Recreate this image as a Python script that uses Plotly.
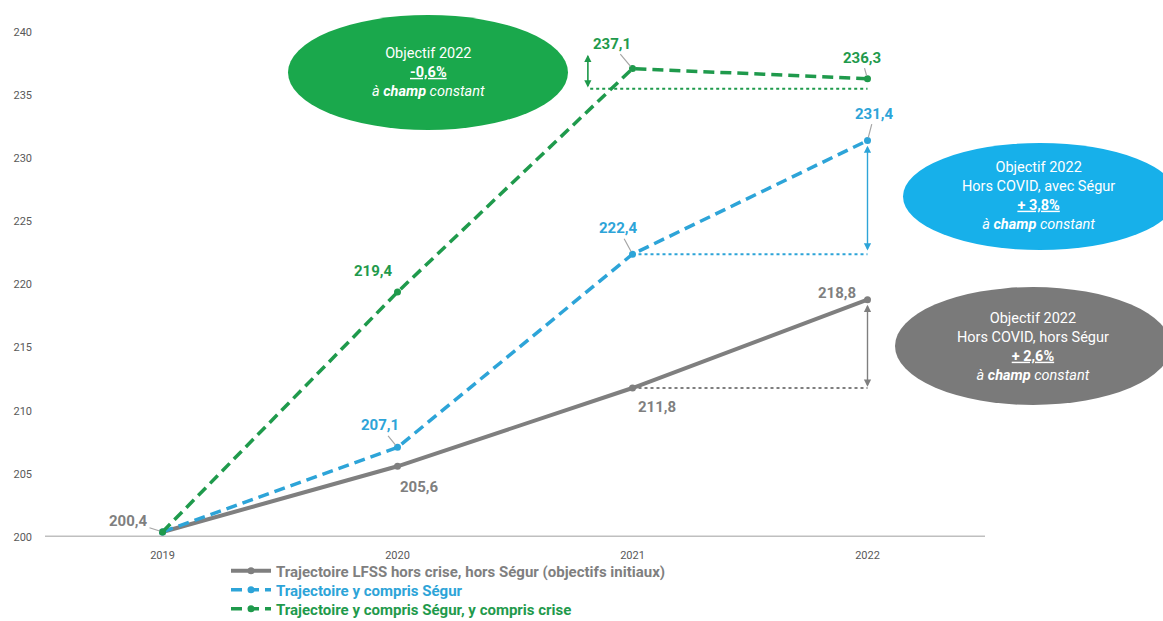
import plotly.graph_objects as go

years = [2019, 2020, 2021, 2022]
lfss = [200.4, 205.6, 211.8, 218.8]
segur = [200.4, 207.1, 222.4, 231.4]
crise = [200.4, 219.4, 237.1, 236.3]
y_ticks = [200, 205, 210, 215, 220, 225, 230, 235, 240]

GRAY = "#7f7f7f"
BLUE = "#2da4d8"
GREEN = "#1f9a4c"
GREEN_EL = "#1aa84c"
BLUE_EL = "#17b0ea"
GRAY_EL = "#7a7a7a"
FONT = "Roboto, Arial, sans-serif"

L, T, W, H = 45, 32, 940, 505

fig = go.Figure()
fig.add_trace(go.Scatter(
    x=years, y=lfss, mode="lines+markers", legend="legend",
    name="<span style='color:#7f7f7f'><b>Trajectoire LFSS hors crise, hors Ségur (objectifs initiaux)</b></span>",
    line=dict(color=GRAY, width=4), marker=dict(size=7, color=GRAY)))
fig.add_trace(go.Scatter(
    x=years, y=segur, mode="lines+markers", legend="legend2",
    name="<span style='color:#2da4d8'><b>Trajectoire y compris Ségur</b></span>",
    line=dict(color=BLUE, width=3.5, dash="11px,6px"), marker=dict(size=7, color=BLUE)))
fig.add_trace(go.Scatter(
    x=years, y=crise, mode="lines+markers", legend="legend3",
    name="<span style='color:#1f9a4c'><b>Trajectoire y compris Ségur, y compris crise</b></span>",
    line=dict(color=GREEN, width=3.5, dash="11px,6px"), marker=dict(size=7, color=GREEN)))

# value labels: (x, y, text, colour, dx px, dy px (negative = up), leader line)
labels = [
    (years[0], lfss[0], "200,4", GRAY, -34, -11, True),
    (years[1], lfss[1], "205,6", GRAY, 22, 21, False),
    (years[2], lfss[2], "211,8", GRAY, 24, 19, False),
    (years[3], lfss[3], "218,8", GRAY, -31, -7, False),
    (years[1], segur[1], "207,1", BLUE, -18, -22, True),
    (years[2], segur[2], "222,4", BLUE, -14, -26, True),
    (years[3], segur[3], "231,4", BLUE, 7, -27, True),
    (years[1], crise[1], "219,4", GREEN, -24, -21, False),
    (years[2], crise[2], "237,1", GREEN, -21, -25, True),
    (years[3], crise[3], "236,3", GREEN, -6, -21, True),
]
for x, y, t, c, ax, ay, arrow in labels:
    if arrow:
        fig.add_annotation(x=x, y=y, text="<b>" + t + "</b>", showarrow=True,
                           arrowhead=0, arrowwidth=1.2, arrowcolor="#a6a6a6",
                           ax=ax, ay=ay, standoff=3,
                           font=dict(color=c, size=15, family=FONT))
    else:
        fig.add_annotation(x=x, y=y, text="<b>" + t + "</b>", showarrow=False,
                           xshift=ax, yshift=-ay,
                           font=dict(color=c, size=15, family=FONT))

# dotted reference lines
dotted = [(2021.0, 2022, 211.8, GRAY), (2021.0, 2022, 222.4, BLUE), (2020.82, 2022, 235.5, GREEN)]
for x0, x1, yv, c in dotted:
    fig.add_shape(type="line", x0=x0, x1=x1, y0=yv, y1=yv,
                  xref="x", yref="y", line=dict(color=c, width=2, dash="dot"))

# double arrows
def dbl_arrow(x, y0, y1, c):
    for a, b in ((y0, y1), (y1, y0)):
        fig.add_annotation(x=x, y=b, ax=x, ay=a, xref="x", yref="y", axref="x", ayref="y",
                           text="", showarrow=True, arrowhead=2, arrowsize=1.2,
                           arrowwidth=1.2, arrowcolor=c)

dbl_arrow(2022, 211.9, 218.4, GRAY)
dbl_arrow(2022, 222.7, 231.0, BLUE)
dbl_arrow(2020.81, 235.6, 238.2, GREEN)

# ellipses
def px2paper(x, y):
    return (x - L) / W, (T + H - y) / H

def ellipse(x0, y0, x1, y1, color, lines, xc, yc):
    a0, b0 = px2paper(x0, y1)
    a1, b1 = px2paper(x1, y0)
    fig.add_shape(type="circle", xref="paper", yref="paper", x0=a0, x1=a1, y0=b0, y1=b1,
                  fillcolor=color, line=dict(color=color, width=0), layer="above")
    cx, cy = px2paper(xc, yc)
    fig.add_annotation(xref="paper", yref="paper", x=cx, y=cy, text="<br>".join(lines),
                       xanchor="center", yanchor="middle",
                       showarrow=False, font=dict(color="white", size=14.5, family=FONT),
                       align="center")

ellipse(288, 15, 568, 130, GREEN_EL,
        ["Objectif 2022", "<u><b>-0,6%</b></u>", "<i>à <b>champ</b> constant</i>"], 428, 73)
ellipse(903, 143, 1177, 250, BLUE_EL,
        ["Objectif 2022", "Hors COVID, avec Ségur", "<u><b>+ 3,8%</b></u>", "<i>à <b>champ</b> constant</i>"], 1038, 196)
ellipse(895, 287, 1171, 405, GRAY_EL,
        ["Objectif 2022", "Hors COVID, hors Ségur", "<u><b>+ 2,6%</b></u>", "<i>à <b>champ</b> constant</i>"], 1033, 347)

def legend_at(py):
    return dict(x=(226 - L) / W, y=(T + H - py) / H, xanchor="left", yanchor="middle",
                font=dict(size=15, family=FONT), bgcolor="rgba(0,0,0,0)",
                itemwidth=40, borderwidth=0)

fig.update_layout(
    width=1163, height=621,
    margin=dict(l=L, r=1163 - L - W, t=T, b=621 - T - H, autoexpand=False),
    paper_bgcolor="white", plot_bgcolor="white",
    font=dict(family=FONT, color="#595959"),
    showlegend=True,
    legend=legend_at(571),
    legend2=legend_at(590),
    legend3=legend_at(609),
    xaxis=dict(range=[2018.5, 2022.5], tickvals=years, showgrid=False, zeroline=False,
               showline=False, ticks="", tickfont=dict(size=11, color="#595959"),
               ticklabelstandoff=10),
    yaxis=dict(range=[200, 240], tickvals=y_ticks, showgrid=False, zeroline=False,
               showline=False, ticks="", tickfont=dict(size=11, color="#595959"),
               ticklabelstandoff=12),
)
# x axis baseline
fig.add_shape(type="line", xref="paper", yref="y", x0=0, x1=1, y0=200, y1=200,
              line=dict(color="#bfbfbf", width=3), layer="below")

fig.write_html("out.html", config={"displayModeBar": False},
               post_script="document.body.style.margin='0px';")
